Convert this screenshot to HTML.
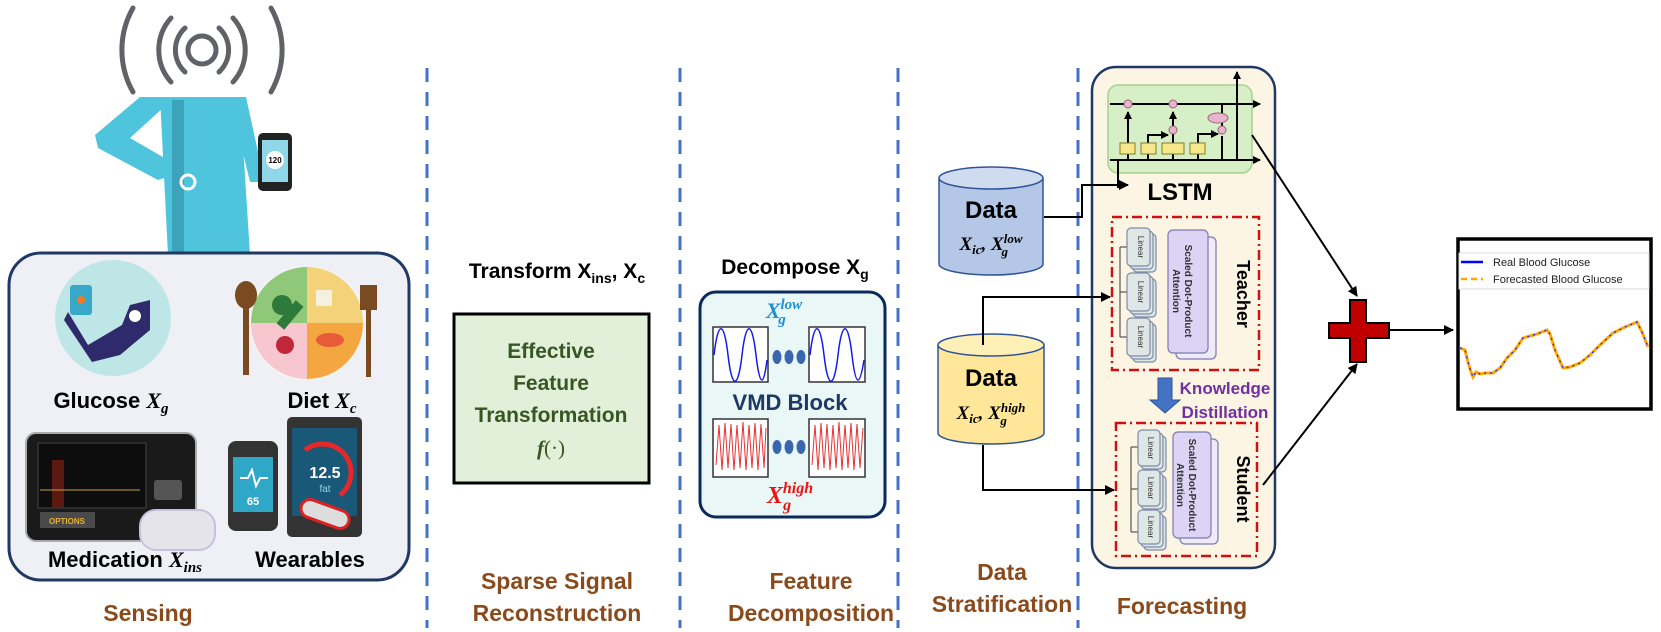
<!DOCTYPE html>
<html><head><meta charset="utf-8"><style>
html,body{margin:0;padding:0;background:#fff;}
svg{display:block;}
text{font-family:"Liberation Sans",sans-serif;}
.b{font-weight:bold;}
.m{font-family:"Liberation Serif",serif;font-style:italic;font-weight:bold;}
.brown{fill:#8a4a1c;font-weight:bold;font-size:23px;}
</style></head><body>
<svg width="1661" height="632" viewBox="0 0 1661 632" xmlns="http://www.w3.org/2000/svg">
<defs>
<marker id="ar" markerWidth="10" markerHeight="10" refX="9" refY="5" orient="auto" markerUnits="userSpaceOnUse"><path d="M0,0 L10,5 L0,10 z" fill="#000"/></marker>
<marker id="ar2" markerWidth="8" markerHeight="8" refX="7" refY="4" orient="auto" markerUnits="userSpaceOnUse"><path d="M0,0 L8,4 L0,8 z" fill="#000"/></marker>
</defs>

<g stroke="#4472c4" stroke-width="3" stroke-dasharray="14,10">
<line x1="427" y1="68" x2="427" y2="628"/>
<line x1="680" y1="68" x2="680" y2="628"/>
<line x1="898" y1="68" x2="898" y2="628"/>
<line x1="1078" y1="68" x2="1078" y2="628"/>
</g>

<!-- ===== SENSING ===== -->
<g fill="none" stroke="#5f6266" stroke-width="5" stroke-linecap="round">
<circle cx="202" cy="50" r="14"/>
<path d="M185,28 A30,30 0 0 0 185,72"/><path d="M219,28 A30,30 0 0 1 219,72"/>
<path d="M171,18 A48,48 0 0 0 171,82"/><path d="M233,18 A48,48 0 0 1 233,82"/>
<path d="M133,8 A85,85 0 0 0 133,92"/><path d="M271,8 A85,85 0 0 1 271,92"/>
</g>
<!-- person -->
<path d="M160,97 L240,97 L250,255 L168,255 Z" fill="#4ec5dd"/>
<path d="M140,97 L175,97 L130,138 L168,160 L170,176 L158,180 L98,148 L95,135 Z" fill="#4ec5dd"/>
<path d="M232,97 L246,97 L262,170 L262,182 L250,182 L240,140 Z" fill="#4ec5dd"/>
<rect x="172" y="100" width="12" height="155" fill="#3ba4ba"/>
<circle cx="188" cy="182" r="7" fill="none" stroke="#fff" stroke-width="3"/>
<rect x="258" y="133" width="34" height="58" rx="5" fill="#222"/>
<rect x="262" y="140" width="26" height="42" fill="#8fd7e8"/>
<circle cx="275" cy="160" r="9" fill="#fff"/>
<text x="275" y="163" font-size="8" text-anchor="middle" class="b">120</text>

<rect x="9" y="253" width="400" height="327" rx="32" fill="#eef0f5" stroke="#1f3864" stroke-width="3"/>
<circle cx="113" cy="318" r="58" fill="#bfe6e6"/>
<path d="M68,312 L88,345 L122,325 L130,305 L150,300 L150,330 L120,355 L92,362 L64,320 Z" fill="#2e2a6b"/>
<circle cx="135" cy="316" r="6" fill="#fff"/>
<rect x="70" y="285" width="22" height="30" rx="3" fill="#37a8c8"/>
<circle cx="81" cy="300" r="4" fill="#f07a2a"/>
<circle cx="307" cy="323" r="58" fill="#f3f3f3"/>
<path d="M307,323 L307,267 A56,56 0 0 0 251,323 Z" fill="#8fc878"/>
<path d="M307,323 L307,267 A56,56 0 0 1 363,323 Z" fill="#f4d27a"/>
<path d="M307,323 L363,323 A56,56 0 0 1 307,379 Z" fill="#f4a640"/>
<path d="M307,323 L307,379 A56,56 0 0 1 251,323 Z" fill="#f7c6cf"/>
<circle cx="282" cy="305" r="10" fill="#2d7a3a"/><rect x="285" y="300" width="10" height="30" fill="#2d7a3a" transform="rotate(40 290 315)"/>
<circle cx="285" cy="345" r="9" fill="#c0283a"/><ellipse cx="330" cy="340" rx="14" ry="7" fill="#e85a3a"/>
<rect x="316" y="290" width="16" height="16" fill="#f5f0e0"/>
<rect x="243" y="300" width="6" height="75" fill="#7a4a20"/><ellipse cx="246" cy="295" rx="11" ry="14" fill="#7a4a20"/>
<rect x="366" y="305" width="5" height="72" fill="#7a4a20"/><rect x="360" y="285" width="17" height="25" fill="#7a4a20"/>
<text x="111" y="408" font-size="22" class="b" text-anchor="middle">Glucose <tspan class="m">X</tspan><tspan class="m" font-size="15" dy="5">g</tspan></text>
<text x="322" y="408" font-size="22" class="b" text-anchor="middle">Diet <tspan class="m">X</tspan><tspan class="m" font-size="15" dy="5">c</tspan></text>
<rect x="26" y="433" width="170" height="108" rx="10" fill="#1a1a1a" stroke="#aaa" stroke-width="2"/>
<rect x="38" y="443" width="108" height="65" fill="#0d0d0d" stroke="#444"/>
<rect x="52" y="460" width="12" height="48" fill="#5a1a12"/>
<line x1="40" y1="490" x2="140" y2="490" stroke="#c9a040"/>
<rect x="40" y="512" width="55" height="16" fill="#4a4a4a"/>
<text x="67" y="524" font-size="8" fill="#e8b030" text-anchor="middle" class="b">OPTIONS</text>
<rect x="154" y="480" width="28" height="20" rx="3" fill="#555"/>
<rect x="140" y="510" width="75" height="40" rx="16" fill="#e4e4ea" stroke="#c8c0dc" stroke-width="2"/>
<rect x="287" y="417" width="75" height="120" rx="5" fill="#333"/>
<rect x="292" y="428" width="65" height="88" fill="#1a5878"/>
<path d="M305,450 A28,28 0 1 1 340,495" fill="none" stroke="#e62828" stroke-width="5"/>
<text x="325" y="478" font-size="16" fill="#fff" text-anchor="middle" class="b">12.5</text>
<text x="325" y="492" font-size="10" fill="#8fd7e8" text-anchor="middle">fat</text>
<rect x="228" y="441" width="50" height="90" rx="8" fill="#333"/>
<rect x="233" y="457" width="40" height="55" fill="#2fa8c8"/>
<text x="253" y="505" font-size="11" fill="#fff" text-anchor="middle" class="b">65</text>
<path d="M240,478 L248,478 L252,470 L256,486 L260,478 L268,478" stroke="#fff" stroke-width="2" fill="none"/>
<rect x="300" y="505" width="50" height="18" rx="9" fill="#ddd" stroke="#e02020" stroke-width="3" transform="rotate(20 325 514)"/>
<text x="125" y="567" font-size="22" class="b" text-anchor="middle">Medication <tspan class="m">X</tspan><tspan class="m" font-size="15" dy="5">ins</tspan></text>
<text x="310" y="567" font-size="22" class="b" text-anchor="middle">Wearables</text>
<text x="148" y="621" class="brown" text-anchor="middle">Sensing</text>

<!-- ===== SPARSE ===== -->
<text x="557" y="278" font-size="21" class="b" text-anchor="middle">Transform X<tspan font-size="14" dy="5">ins</tspan><tspan dy="-5">, X</tspan><tspan font-size="14" dy="5">c</tspan></text>
<rect x="454" y="314" width="195" height="169" fill="#e2efd9" stroke="#000" stroke-width="3"/>
<g fill="#375623" font-size="21" class="b" text-anchor="middle">
<text x="551" y="358" class="b">Effective</text>
<text x="551" y="390" class="b">Feature</text>
<text x="551" y="422" class="b">Transformation</text>
<text x="551" y="455" class="m">f<tspan font-style="normal" font-weight="normal">(·)</tspan></text>
</g>
<text x="557" y="589" class="brown" text-anchor="middle">Sparse Signal</text>
<text x="557" y="621" class="brown" text-anchor="middle">Reconstruction</text>

<!-- ===== DECOMPOSITION ===== -->
<text x="795" y="274" font-size="21" class="b" text-anchor="middle">Decompose X<tspan font-size="14" dy="5">g</tspan></text>
<rect x="700" y="292" width="185" height="225" rx="16" fill="#e9f7f6" stroke="#0b2a5c" stroke-width="3"/>
<text x="784" y="318" font-size="22" fill="#1f8fd0" class="m" text-anchor="middle">X<tspan font-size="15" dy="-9">low</tspan><tspan font-size="15" dx="-24" dy="15">g</tspan></text>
<g fill="#fff" stroke="#333" stroke-width="1.5">
<rect x="713" y="327" width="55" height="55"/><rect x="809" y="327" width="56" height="55"/>
<rect x="713" y="419" width="55" height="58"/><rect x="809" y="419" width="56" height="58"/>
</g>
<g fill="none" stroke="#1a1aee" stroke-width="1.5">
<path d="M714,355 C718,320 724,320 728,355 S738,390 742,355 S752,320 756,355 S764,385 767,360"/>
<path d="M810,355 C814,320 820,320 824,355 S834,390 838,355 S848,320 852,355 S860,385 864,360"/>
</g>
<g fill="none" stroke="#e83030" stroke-width="1">
<path d="M716,465 L719,425 L722,470 L725,423 L728,468 L731,424 L734,470 L737,425 L740,468 L743,422 L746,470 L749,425 L752,468 L755,423 L758,470 L761,424 L764,468 L766,428"/>
<path d="M812,465 L815,425 L818,470 L821,423 L824,468 L827,424 L830,470 L833,425 L836,468 L839,422 L842,470 L845,425 L848,468 L851,423 L854,470 L857,424 L860,468 L863,428"/>
</g>
<g fill="#3a66b0"><ellipse cx="777" cy="357" rx="4.5" ry="7"/><ellipse cx="789" cy="357" rx="4.5" ry="7"/><ellipse cx="801" cy="357" rx="4.5" ry="7"/>
<ellipse cx="777" cy="447" rx="4.5" ry="7"/><ellipse cx="789" cy="447" rx="4.5" ry="7"/><ellipse cx="801" cy="447" rx="4.5" ry="7"/></g>
<text x="790" y="410" font-size="22" fill="#1f3864" class="b" text-anchor="middle">VMD Block</text>
<text x="790" y="503" font-size="24" fill="#ee1111" class="m" text-anchor="middle">X<tspan font-size="16" dy="-10">high</tspan><tspan font-size="16" dx="-30" dy="17">g</tspan></text>
<text x="811" y="589" class="brown" text-anchor="middle">Feature</text>
<text x="811" y="621" class="brown" text-anchor="middle">Decomposition</text>

<!-- ===== STRATIFICATION ===== -->
<g stroke="#2f5597" stroke-width="1.5">
<path d="M939,178 L939,264 A52,11 0 0 0 1043,264 L1043,178" fill="#b4c7e7"/>
<ellipse cx="991" cy="178" rx="52" ry="11" fill="#cfdcf0"/>
</g>
<text x="991" y="218" font-size="24" class="b" text-anchor="middle">Data</text>
<text x="991" y="250" font-size="19" class="m" text-anchor="middle">X<tspan font-size="13" dy="4">ic</tspan><tspan dy="-4">, X</tspan><tspan font-size="13" dy="-7">low</tspan><tspan font-size="13" dx="-21" dy="13">g</tspan></text>
<g stroke="#2f5597" stroke-width="1.5">
<path d="M938,345 L938,433 A53,11 0 0 0 1044,433 L1044,345" fill="#ffe699"/>
<ellipse cx="991" cy="345" rx="53" ry="11" fill="#fff0b8"/>
</g>
<text x="991" y="386" font-size="24" class="b" text-anchor="middle">Data</text>
<text x="991" y="419" font-size="19" class="m" text-anchor="middle">X<tspan font-size="13" dy="4">ic</tspan><tspan dy="-4">, X</tspan><tspan font-size="13" dy="-7">high</tspan><tspan font-size="13" dx="-25" dy="13">g</tspan></text>
<text x="1002" y="580" class="brown" text-anchor="middle">Data</text>
<text x="1002" y="612" class="brown" text-anchor="middle">Stratification</text>

<!-- ===== FORECASTING ===== -->
<rect x="1092" y="67" width="183" height="501" rx="24" fill="#fdf5e4" stroke="#1f3864" stroke-width="2.5"/>
<rect x="1108" y="85" width="144" height="88" rx="10" fill="#d6efc6" stroke="#a9d18e" stroke-width="1.5"/>
<g stroke="#000" stroke-width="2" fill="none">
<line x1="1110" y1="104" x2="1260" y2="104" marker-end="url(#ar2)"/>
<line x1="1110" y1="160" x2="1260" y2="160" marker-end="url(#ar2)"/>
<line x1="1237" y1="160" x2="1237" y2="72" marker-end="url(#ar2)"/>
<path d="M1128,160 V112" marker-end="url(#ar2)"/>
<path d="M1148,160 V135 H1168" marker-end="url(#ar2)"/>
<path d="M1173,160 V112" marker-end="url(#ar2)"/>
<path d="M1198,160 V134 H1218" marker-end="url(#ar2)"/>
<path d="M1222,104 V130 M1222,136 V160 H1245"/>
<path d="M1118,160 V188"/>
</g>
<g fill="#e8b6cc" stroke="#a06080" stroke-width="1">
<circle cx="1128" cy="104" r="4"/><circle cx="1173" cy="104" r="4"/><circle cx="1173" cy="130" r="4"/><circle cx="1222" cy="130" r="4"/>
<ellipse cx="1218" cy="118" rx="10" ry="5"/>
</g>
<g fill="#f5e88a" stroke="#8a7a20" stroke-width="1">
<rect x="1120" y="143" width="15" height="11"/><rect x="1141" y="143" width="15" height="11"/><rect x="1162" y="143" width="22" height="11"/><rect x="1190" y="143" width="15" height="11"/>
</g>
<text x="1180" y="200" font-size="24" class="b" text-anchor="middle">LSTM</text>

<rect x="1112" y="217" width="147" height="153" fill="none" stroke="#d01010" stroke-width="2.5" stroke-dasharray="10,4,2,4"/>
<g stroke="#555" stroke-width="1.2">
<line x1="1120" y1="247" x2="1120" y2="337"/><line x1="1120" y1="247" x2="1127" y2="247"/><line x1="1120" y1="292" x2="1127" y2="292"/><line x1="1120" y1="337" x2="1127" y2="337"/>
</g>
<g fill="#dfe6e6" stroke="#7d8ca8" stroke-width="1.2">
<rect x="1133" y="234" width="23" height="38" rx="4"/><rect x="1130" y="231" width="23" height="38" rx="4"/><rect x="1127" y="228" width="23" height="38" rx="4"/>
<rect x="1133" y="279" width="23" height="38" rx="4"/><rect x="1130" y="276" width="23" height="38" rx="4"/><rect x="1127" y="273" width="23" height="38" rx="4"/>
<rect x="1133" y="324" width="23" height="38" rx="4"/><rect x="1130" y="321" width="23" height="38" rx="4"/><rect x="1127" y="318" width="23" height="38" rx="4"/>
</g>
<g fill="#ddd4f5" stroke="#7d7ab0" stroke-width="1.2">
<rect x="1176" y="237" width="40" height="122" rx="5" fill="#eeeaf8"/><rect x="1168" y="230" width="40" height="123" rx="5"/>
</g>
<g font-size="8" text-anchor="middle" fill="#333">
<text transform="translate(1138,247) rotate(90)">Linear</text><text transform="translate(1138,292) rotate(90)">Linear</text><text transform="translate(1138,337) rotate(90)">Linear</text>
<text transform="translate(1185,291) rotate(90)" font-size="10" class="b">Scaled Dot-Product</text>
<text transform="translate(1173,291) rotate(90)" font-size="10" class="b">Attention</text>
</g>
<text transform="translate(1237,294) rotate(90)" font-size="18" class="b" text-anchor="middle">Teacher</text>
<path d="M1158,378 H1172 V400 H1180 L1165,413 L1150,400 H1158 Z" fill="#4472c4" stroke="#2f5597"/>
<text x="1225" y="394" font-size="17" fill="#7030a0" class="b" text-anchor="middle">Knowledge</text>
<text x="1225" y="418" font-size="17" fill="#7030a0" class="b" text-anchor="middle">Distillation</text>
<rect x="1116" y="423" width="141" height="133" fill="none" stroke="#d01010" stroke-width="2.5" stroke-dasharray="10,4,2,4"/>
<g stroke="#555" stroke-width="1.2">
<line x1="1131" y1="447" x2="1131" y2="532"/><line x1="1131" y1="447" x2="1138" y2="447"/><line x1="1131" y1="489" x2="1138" y2="489"/><line x1="1131" y1="532" x2="1138" y2="532"/>
</g>
<g fill="#dfe6e6" stroke="#7d8ca8" stroke-width="1.2">
<rect x="1144" y="436" width="22" height="36" rx="4"/><rect x="1141" y="433" width="22" height="36" rx="4"/><rect x="1138" y="430" width="22" height="36" rx="4"/>
<rect x="1144" y="476" width="22" height="36" rx="4"/><rect x="1141" y="473" width="22" height="36" rx="4"/><rect x="1138" y="470" width="22" height="36" rx="4"/>
<rect x="1144" y="516" width="22" height="34" rx="4"/><rect x="1141" y="513" width="22" height="34" rx="4"/><rect x="1138" y="510" width="22" height="34" rx="4"/>
</g>
<g fill="#ddd4f5" stroke="#7d7ab0" stroke-width="1.2">
<rect x="1180" y="439" width="38" height="105" rx="5" fill="#eeeaf8"/><rect x="1173" y="432" width="38" height="106" rx="5"/>
</g>
<g font-size="8" text-anchor="middle" fill="#333">
<text transform="translate(1148,448) rotate(90)">Linear</text><text transform="translate(1148,488) rotate(90)">Linear</text><text transform="translate(1148,527) rotate(90)">Linear</text>
<text transform="translate(1189,485) rotate(90)" font-size="10" class="b">Scaled Dot-Product</text>
<text transform="translate(1177,485) rotate(90)" font-size="10" class="b">Attention</text>
</g>
<text transform="translate(1237,489) rotate(90)" font-size="18" class="b" text-anchor="middle">Student</text>
<text x="1182" y="614" class="brown" text-anchor="middle">Forecasting</text>

<g stroke="#000" stroke-width="2" fill="none">
<path d="M1044,217 H1082 V185 H1128" marker-end="url(#ar)"/>
<path d="M983,345 V297 H1110" marker-end="url(#ar)"/>
<path d="M983,445 V490 H1114" marker-end="url(#ar)"/>
<path d="M1252,135 L1357,296" marker-end="url(#ar)"/>
<path d="M1263,485 L1357,364" marker-end="url(#ar)"/>
<path d="M1390,330 H1453" marker-end="url(#ar)"/>
</g>
<path d="M1350,300 H1366 V323 H1389 V338 H1366 V362 H1350 V338 H1329 V323 H1350 Z" fill="#c00000" stroke="#000" stroke-width="2"/>

<rect x="1458" y="239" width="193" height="170" fill="#fff" stroke="#000" stroke-width="3.5"/>
<rect x="1459" y="253" width="190" height="36" fill="#fff" stroke="#ddd"/>
<line x1="1461" y1="262" x2="1483" y2="262" stroke="#0000ff" stroke-width="2.5"/>
<line x1="1461" y1="279" x2="1483" y2="279" stroke="#ffa500" stroke-width="2.5" stroke-dasharray="6,4"/>
<text x="1493" y="266" font-size="11" fill="#222" font-family="DejaVu Sans">Real Blood Glucose</text>
<text x="1493" y="283" font-size="11" fill="#222" font-family="DejaVu Sans">Forecasted Blood Glucose</text>
<path d="M1460,348 L1465,350 L1468,362 L1471,372 L1473,377 L1476,372 L1480,374 L1486,373 L1493,373 L1500,368 L1507,358 L1515,350 L1523,338 L1530,336 L1537,334 L1547,330 L1550,334 L1555,350 L1563,368 L1570,367 L1580,363 L1590,355 L1600,345 L1613,333 L1625,327 L1637,322 L1642,332 L1648,347" fill="none" stroke="#ffa500" stroke-width="3"/>
<path d="M1460,348 L1465,350 L1468,362 L1471,372 L1473,377 L1476,372 L1480,374 L1486,373 L1493,373 L1500,368 L1507,358 L1515,350 L1523,338 L1530,336 L1537,334 L1547,330 L1550,334 L1555,350 L1563,368 L1570,367 L1580,363 L1590,355 L1600,345 L1613,333 L1625,327 L1637,322 L1642,332 L1648,347" fill="none" stroke="#2020ee" stroke-width="1.2" stroke-dasharray="2,4"/>
</svg>
</body></html>
